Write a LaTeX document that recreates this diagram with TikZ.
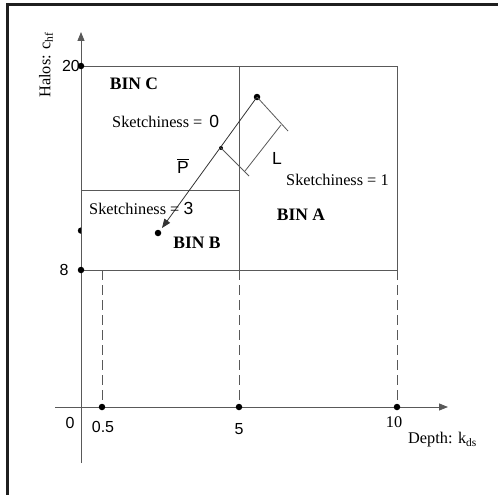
\documentclass[tikz,border=0pt]{standalone}
\usepackage{fontspec}
\setmainfont{Liberation Serif}
\newfontfamily\sansf{Liberation Sans}
\usetikzlibrary{arrows.meta}
\begin{document}
\begin{tikzpicture}[x=1pt,y=-1pt,
  ln/.style={draw=black!65, line width=0.8pt},
  dsh/.style={draw=black!65, line width=0.8pt, dash pattern=on 10pt off 5pt},
  dotc/.style={circle, fill=black, inner sep=0pt, minimum size=6.5pt},
  smalldot/.style={circle, fill=black, inner sep=0pt, minimum size=4pt},
  lbl/.style={inner sep=0pt, font=\fontsize{16.3}{18}\selectfont},
  slbl/.style={inner sep=0pt, font=\fontsize{16}{18}\sansf},
  bigs/.style={inner sep=0pt, font=\fontsize{17.5}{19}\sansf},
  blbl/.style={inner sep=0pt, font=\fontsize{17.5}{19}\selectfont\bfseries},
  tipa/.style={-{Triangle[length=9pt,width=7pt]}}
]
\useasboundingbox (0,0) rectangle (498,495);
% frame (top and left only)
\draw[line width=3pt, black!88] (7.5,495) -- (7.5,4.5) -- (498,4.5);

% axes
\coordinate (ybot) at (81,463);
\coordinate (ytop) at (81,32);
\coordinate (xl) at (55,407);
\coordinate (xr) at (448,407);
\draw[ln, tipa] (ybot) -- (ytop);
\draw[ln, tipa] (xl) -- (xr);

% bins
\coordinate (c20) at (81,66);
\coordinate (c8) at (81,270);
\coordinate (tm) at (239,66);
\coordinate (tr) at (397,66);
\coordinate (bm) at (239,270);
\coordinate (br) at (397,270);
\coordinate (ml) at (81,190);
\coordinate (mm) at (239,190);
\draw[ln] (c20) -- (tr) -- (br) -- (c8);
\draw[ln] (tm) -- (bm);
\draw[ln] (ml) -- (mm);

% dashed projections
\coordinate (d05t) at (102,270);
\coordinate (d05b) at (102,407);
\coordinate (d5b) at (239,407);
\coordinate (d10b) at (397,407);
\draw[dsh] (d05t) -- (d05b);
\draw[dsh] (bm) -- (d5b);
\draw[dsh] (br) -- (d10b);

% axis dots
\node[dotc] (p20) at (c20) {};
\node[dotc] (p8) at (c8) {};
\node[dotc] (p05) at (d05b) {};
\node[dotc] (p5) at (d5b) {};
\node[dotc] (p10) at (d10b) {};
\fill[black] (81,233.8) arc[start angle=90, end angle=270, radius=3.2] -- cycle;

% P vector and L
\node[dotc] (ptop) at (257,97) {};
\node[smalldot] (pmid) at (221,148) {};
\node[dotc] (pend) at (158,233) {};
\coordinate (ptip) at (162,228);
\draw[draw=black!80, line width=0.8pt, tipa] (ptop.center) -- (ptip);
\coordinate (perp1) at (249,176);
\coordinate (perp2) at (288,131);
\draw[ln] (pmid.center) -- (perp1);
\draw[ln] (ptop.center) -- (perp2);
\coordinate (la) at (281,125);
\coordinate (lb) at (245,171);
\draw[ln] (la) -- (lb);

% labels
\node[blbl] (binc) at (134,84) {BIN C};
\node[lbl, anchor=west] (s0) at (112,121) {Sketchiness =\hspace{7pt}{\fontsize{17.5}{19}\sansf 0}};
\node[bigs] (pbar) at (183,166) {$\overline{\hbox{\sansf P}}$};
\node[bigs] (lL) at (277,158) {L};
\node[lbl, anchor=west] (s1) at (286,180) {Sketchiness = 1};
\node[blbl] (bina) at (301,215) {BIN A};
\node[lbl, anchor=west] (s3) at (89,208) {Sketchiness = {\fontsize{17.5}{19}\sansf 3}};
\node[blbl] (binb) at (197,243) {BIN B};

\node[slbl, anchor=east] (l20) at (80,66) {20};
\node[slbl] (l8) at (64,270) {8};
\node[slbl] (l0) at (70,423) {0};
\node[slbl] (l05) at (103,427) {0.5};
\node[slbl] (l5) at (239,429) {5};
\node[lbl] (l10) at (394,422) {10};
\node[lbl, anchor=west] (depth) at (408,440) {Depth: k\textsubscript{ds}};
\node[lbl, rotate=90] (halos) at (46,65) {Halos: c\textsubscript{hf}};
\end{tikzpicture}
\end{document}
